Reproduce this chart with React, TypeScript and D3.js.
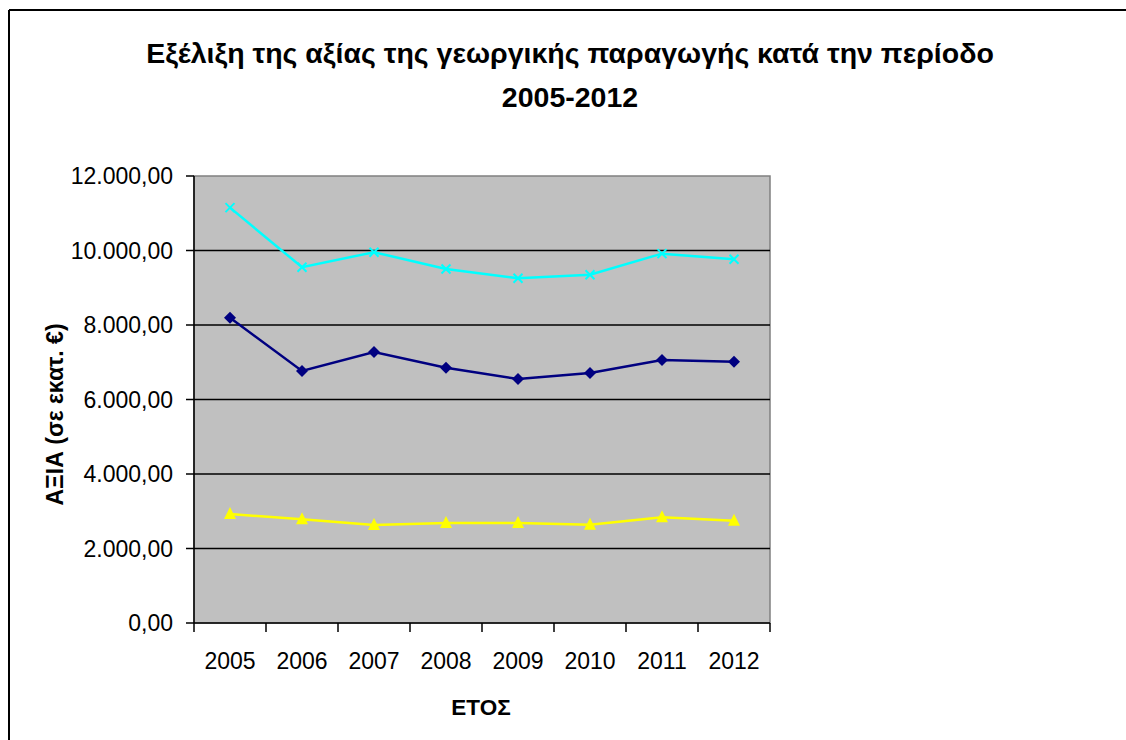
import React from 'react';
import * as d3 from 'd3';

// ==== data (σε εκατ. €)

const years = ['2005', '2006', '2007', '2008', '2009', '2010', '2011', '2012'];
const totalValues = [11150, 9550, 9955, 9505, 9255, 9350, 9915, 9765];
const cropValues = [8195, 6765, 7275, 6855, 6550, 6710, 7060, 7015];
const animalValues = [2925, 2785, 2630, 2685, 2685, 2640, 2840, 2745];
const yTicks = [0, 2000, 4000, 6000, 8000, 10000, 12000];

const titleLines = ['Εξέλιξη της αξίας της γεωργικής παραγωγής κατά την περίοδο', '2005-2012'];

const W = 1126;
const H = 740;
const plot = { left: 194, top: 176, right: 770, bottom: 623 };
const font = 'Arial, "Liberation Sans", sans-serif';

const fmt = (v: number) => {
    const s = d3.format(',.2f')(v);
    return s.replace(/,/g, '#').replace('.', ',').replace(/#/g, '.');
};

// ====

export default function App() {
    const x = d3.scaleBand<string>().domain(years).range([plot.left, plot.right]);
    const y = d3.scaleLinear().domain([0, 12000]).range([plot.bottom, plot.top]);
    const cx = (yr: string) => (x(yr) as number) + x.bandwidth() / 2;

    const line = (vals: number[]) =>
        d3.line<number>()
            .x((_, i) => cx(years[i]))
            .y((d) => y(d))(vals) as string;

    const boundaries = years.map((yr) => x(yr) as number).concat([plot.right]);

    return (
        <svg width={W} height={H} style={{ position: 'absolute', left: 0, top: 0, background: '#fff' }}
            fontFamily={font}>
            {/* outer chart frame */}
            <line x1={9} y1={10} x2={W} y2={10} stroke="#000" strokeWidth={2} />
            <line x1={9} y1={10} x2={9} y2={H} stroke="#000" strokeWidth={2} />

            {titleLines.map((t, i) => (
                <text key={i} x={570} y={63 + i * 44} textAnchor="middle" fontSize={28.5} fontWeight="bold">{t}</text>
            ))}

            {/* plot area */}
            <rect x={plot.left} y={plot.top} width={plot.right - plot.left} height={plot.bottom - plot.top}
                fill="#c0c0c0" stroke="#808080" strokeWidth={1.5} />

            {yTicks.filter((t) => t > 0 && t < 12000).map((t) => (
                <line key={t} x1={plot.left} x2={plot.right} y1={y(t)} y2={y(t)} stroke="#000" strokeWidth={1.5} />
            ))}

            {/* axes */}
            <line x1={plot.left} x2={plot.left} y1={plot.top} y2={plot.bottom} stroke="#000" strokeWidth={1.5} />
            <line x1={plot.left} x2={plot.right} y1={plot.bottom} y2={plot.bottom} stroke="#000" strokeWidth={1.5} />
            {yTicks.map((t) => (
                <g key={t}>
                    <line x1={plot.left - 8} x2={plot.left} y1={y(t)} y2={y(t)} stroke="#000" strokeWidth={1.5} />
                    <text x={173} y={y(t)} dy="0.36em" textAnchor="end" fontSize={23}>{fmt(t)}</text>
                </g>
            ))}
            {boundaries.map((b, i) => (
                <line key={i} x1={b} x2={b} y1={plot.bottom} y2={plot.bottom + 9} stroke="#000" strokeWidth={1.5} />
            ))}
            {years.map((yr) => (
                <text key={yr} x={cx(yr)} y={669} textAnchor="middle" fontSize={23}>{yr}</text>
            ))}

            <text x={481} y={715} textAnchor="middle" fontSize={22.5} fontWeight="bold">ΕΤΟΣ</text>
            <text transform={`translate(63,${(plot.top + plot.bottom) / 2 + 15}) rotate(-90)`} textAnchor="middle"
                fontSize={23} fontWeight="bold">ΑΞΙΑ (σε εκατ. €)</text>

            {/* series */}
            <path d={line(totalValues)} fill="none" stroke="#00ffff" strokeWidth={2.5} />
            {totalValues.map((v, i) => (
                <path key={i} transform={`translate(${cx(years[i])},${y(v)})`} d="M-4.5,-4.5L4.5,4.5M-4.5,4.5L4.5,-4.5"
                    stroke="#00ffff" strokeWidth={2} fill="none" />
            ))}

            <path d={line(cropValues)} fill="none" stroke="#000080" strokeWidth={2.5} />
            {cropValues.map((v, i) => (
                <path key={i} transform={`translate(${cx(years[i])},${y(v)})`} d="M0,-6L6,0L0,6L-6,0Z" fill="#000080" />
            ))}

            <path d={line(animalValues)} fill="none" stroke="#ffff00" strokeWidth={2.5} />
            {animalValues.map((v, i) => (
                <path key={i} transform={`translate(${cx(years[i])},${y(v)})`} d="M0,-7L6,5L-6,5Z" fill="#ffff00" />
            ))}
        </svg>
    );
}
